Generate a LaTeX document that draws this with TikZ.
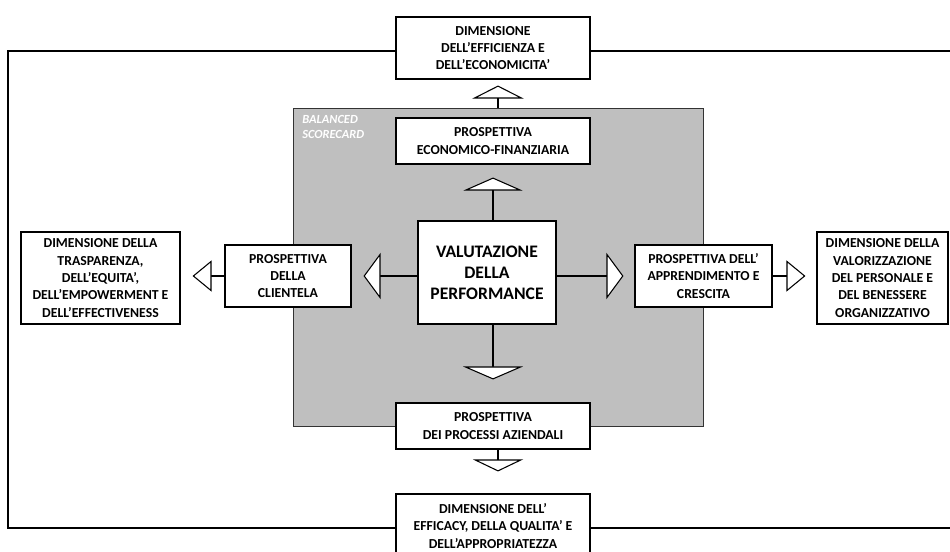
\documentclass[tikz,border=0pt]{standalone}
\usepackage{fontspec}
\setmainfont{Carlito}
\usetikzlibrary{arrows.meta,positioning}
\definecolor{bscgray}{RGB}{191,191,191}

\begin{document}
\begin{tikzpicture}
%Balanced scorecard and performance dimensions
	[
	 x=0.75pt, y=-0.75pt,
	 %Styles
	 box_node/.style={rectangle,draw=black,fill=white,line width=0.8pt,align=center,inner sep=0pt,
	    font=\fontsize{10.3}{13}\selectfont\bfseries},
	 wide_node/.style={box_node,minimum width=145.5pt},
	 big_node/.style={box_node,font=\fontsize{13.2}{15.75}\selectfont\bfseries},
	 group_node/.style={rectangle,draw=black!80,fill=bscgray,line width=0.6pt,inner sep=0pt},
	 label_simple/.style={rectangle,inner sep=0pt,align=left,text=white,
	    font=\fontsize{9.3}{11.25}\selectfont\bfseries\itshape},
	 frame_line/.style={draw=black,line width=0.8pt},
	 link/.style={draw=black,line width=0.8pt}
	]

	\clip (0,0) rectangle (950,552);

	%Group
	\node (bsc)[group_node, minimum width=307.5pt, minimum height=238.5pt] at (498,267) {};
	\node (bsclabel)[label_simple, anchor=north west] at (302,115) {BALANCED\\SCORECARD};

	%Node placement
	%Centre
	\node (valut)[big_node, minimum width=103.5pt, minimum height=77.25pt] at (487,272.5)
	    {VALUTAZIONE\\DELLA\\PERFORMANCE};
	%Perspectives
	\node (econ)[wide_node, minimum height=34.5pt] at (493,141)
	    {PROSPETTIVA\\ECONOMICO-FINANZIARIA};
	\node (processi)[wide_node, minimum height=34.5pt] at (493,426)
	    {PROSPETTIVA\\DEI PROCESSI AZIENDALI};
	\node (clientela)[box_node, minimum width=94.5pt, minimum height=46.5pt] at (288,276)
	    {PROSPETTIVA\\DELLA\\CLIENTELA};
	\node (appr)[box_node, minimum width=102.75pt, minimum height=46.5pt] at (703.5,276)
	    {PROSPETTIVA DELL'\\APPRENDIMENTO E\\CRESCITA};
	%Dimensions
	\node (dimeff)[wide_node, minimum height=46.5pt] at (493,48)
	    {DIMENSIONE\\DELL'EFFICIENZA E\\DELL'ECONOMICITA'};
	\node (dimefficacy)[wide_node, minimum height=48pt] at (493,526)
	    {DIMENSIONE DELL'\\EFFICACY, DELLA QUALITA' E\\DELL'APPROPRIATEZZA};
	\node (dimtrasp)[box_node, minimum width=119.25pt, minimum height=69pt] at (100.5,278)
	    {DIMENSIONE DELLA\\TRASPARENZA,\\DELL'EQUITA',\\DELL'EMPOWERMENT E\\DELL'EFFECTIVENESS};
	\node (dimvalor)[box_node, minimum width=98.25pt, minimum height=69pt] at (882.5,278)
	    {DIMENSIONE DELLA\\VALORIZZAZIONE\\DEL PERSONALE E\\DEL BENESSERE\\ORGANIZZATIVO};

	%Frame
	\coordinate (frametl) at (8,51);
	\coordinate (framebl) at (8,528);
	\coordinate (frametr) at (952,51);
	\coordinate (framebr) at (952,528);
	\path[frame_line] (frametl -| dimeff.west) -- (frametl) -- (framebl) -- (framebl -| dimefficacy.west);
	\path[frame_line] (frametr -| dimeff.east) -- (frametr);
	\path[frame_line] (framebr -| dimefficacy.east) -- (framebr);

	%Edges
	\path[link]
	    (valut.north -| econ.south) edge [-{Triangle[length=9.75pt,width=44.25pt,fill=white]}, shorten >=9.75pt] (econ.south)
	    (valut.south -| processi.north) edge [-{Triangle[length=9.75pt,width=45pt,fill=white]}, shorten >=17.25pt] (processi.north)
	    (valut.west |- clientela) edge [-{Triangle[length=12.75pt,width=34.5pt,fill=white]}, shorten >=9pt] (clientela.east)
	    (valut.east |- appr) edge [-{Triangle[length=12.75pt,width=34.5pt,fill=white]}, shorten >=8.25pt] (appr.west)
	    (bsc.north) edge [-{Triangle[length=9.75pt,width=38.25pt,fill=white]}, shorten >=4.5pt] (bsc.north |- dimeff.south)
	    (processi.south -| bsc.north) edge [-{Triangle[length=9pt,width=37.5pt,fill=white]}, shorten >=16.5pt] (bsc.north |- dimefficacy.north)
	    (clientela.west) edge [-{Triangle[length=14.25pt,width=23.25pt,fill=white]}, shorten >=9pt] (clientela.west -| dimtrasp.east)
	    (appr.east) edge [-{Triangle[length=14.25pt,width=23.25pt,fill=white]}, shorten >=8.25pt] (appr.east -| dimvalor.west);
\end{tikzpicture}
\end{document}
